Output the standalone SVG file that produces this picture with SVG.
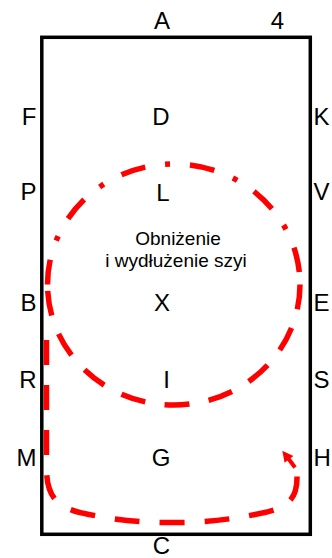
<svg xmlns="http://www.w3.org/2000/svg" width="332" height="558" viewBox="0 0 332 558">
<style>
.lbl{font-family:"Liberation Sans",Arial,sans-serif;font-size:24px;fill:#000}
.mid{text-anchor:middle}
.end{text-anchor:end}
.cap{font-family:"Liberation Sans",Arial,sans-serif;font-size:19px;fill:#000;text-anchor:middle}
.red{fill:none;stroke:#ff0000;stroke-width:5.5;stroke-linecap:butt}
</style>
<rect width="332" height="558" fill="#fff"/>
<g id="arena">
<rect x="41.8" y="37.3" width="268.5" height="497" fill="none" stroke="#000" stroke-width="3.5"/>
</g>
<g id="letters">
<g id="A"><text class="lbl mid" x="162" y="29">A</text></g>
<g id="n4"><text class="lbl mid" x="277.5" y="29">4</text></g>
<g id="F"><text class="lbl end" x="36.5" y="125">F</text></g>
<g id="D"><text class="lbl mid" x="161" y="125">D</text></g>
<g id="K"><text class="lbl" x="313.5" y="125">K</text></g>
<g id="P"><text class="lbl end" x="36.5" y="200">P</text></g>
<g id="L"><text class="lbl mid" x="163" y="201">L</text></g>
<g id="V"><text class="lbl" x="313.5" y="200">V</text></g>
<g id="B"><text class="lbl end" x="36.5" y="311">B</text></g>
<g id="X"><text class="lbl mid" x="162" y="311">X</text></g>
<g id="E"><text class="lbl" x="313.5" y="311">E</text></g>
<g id="R"><text class="lbl end" x="36.5" y="388">R</text></g>
<g id="I"><text class="lbl mid" x="166.5" y="388">I</text></g>
<g id="S"><text class="lbl" x="313.5" y="388">S</text></g>
<g id="M"><text class="lbl end" x="36.5" y="466">M</text></g>
<g id="G"><text class="lbl mid" x="161" y="466">G</text></g>
<g id="H"><text class="lbl" x="313.5" y="466">H</text></g>
<g id="C"><text class="lbl mid" x="161.5" y="554">C</text></g>
</g>
<g id="caption">
<text class="cap" x="178" y="245">Obniżenie</text>
<text class="cap" x="176" y="266.5">i wydłużenie szyi</text>
</g>
<g id="connectors">
<path class="red" d="M47.5 284.5 A126.25 120.5 0 0 1 300 284.5" stroke-dasharray="25 20 5 20"/>
<path class="red" d="M300 284.5 A126.25 120.5 0 0 1 47.5 284.5" stroke-dasharray="25 19.5"/>
<path class="red" d="M46.5 320 L46.5 468 C46.5 500 60 509 89 514.5 C120 520.5 140 522.5 172 522.5 C204 522.5 224 520.5 255 514.5 C280 510 297 505 297 478 L297 473" stroke-dasharray="25 20" stroke-dashoffset="25"/>
<line x1="288" y1="458" x2="295" y2="467.5" stroke="#ff0000" stroke-width="4"/>
<polygon points="282.3,450.7 293.4,456.1 284.6,462.7" fill="#ff0000"/>
</g>
</svg>
